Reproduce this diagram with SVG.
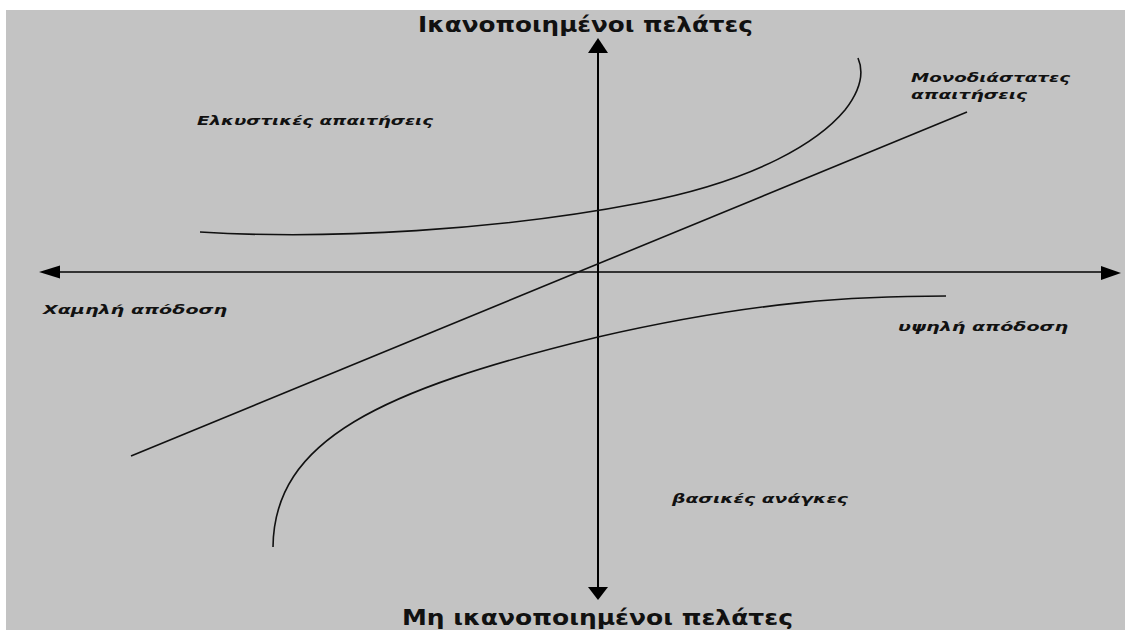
<svg xmlns="http://www.w3.org/2000/svg" width="1125" height="630" viewBox="0 0 1125 630">
<style>
.axis{stroke:#000;stroke-width:2;fill:none}
.haxis{stroke:#333;stroke-width:2.2;fill:none}
.curve{stroke:#111;stroke-width:1.6;fill:none}
.head{fill:#000}
.title{font-family:"DejaVu Sans","Liberation Sans",sans-serif;font-weight:bold;font-size:22px;fill:#111}
.lbl{font-family:"DejaVu Sans","Liberation Sans",sans-serif;font-weight:bold;font-style:italic;font-size:13px;fill:#111}
</style>
<rect x="0" y="0" width="1125" height="630" fill="#fff"/>
<rect x="6" y="10" width="1119" height="620" fill="#c3c3c3"/>
<g id="connectors">
<line class="haxis" x1="55" y1="272" x2="1106" y2="272"/>
<polygon class="head" points="39,272 60,265.5 60,278.5"/>
<polygon class="head" points="1121,273 1101,266 1101,280"/>
<line class="axis" x1="598" y1="48" x2="598" y2="590"/>
<polygon class="head" points="598,38 588,53 608,53"/>
<polygon class="head" points="598,600 588,587 608,587"/>
<path class="curve" d="M200,232 C330,240 500,230 640,203 C760,180 820,140 845,110 C862,88 864,72 858,58"/>
<line class="curve" x1="131" y1="456" x2="967" y2="112"/>
<path class="curve" d="M273,547 C274,440 380,390 598,337 C760,300 860,296 946,296"/>
</g>
<g id="top-label"><text class="title" x="418" y="32" textLength="335" lengthAdjust="spacingAndGlyphs">Ικανοποιημένοι πελάτες</text></g>
<g id="bottom-label"><text class="title" x="402" y="625" textLength="391" lengthAdjust="spacingAndGlyphs">Μη ικανοποιημένοι πελάτες</text></g>
<g id="attractive"><text class="lbl" x="197" y="125" textLength="236" lengthAdjust="spacingAndGlyphs">Ελκυστικές απαιτήσεις</text></g>
<g id="one-dimensional"><text class="lbl" x="911" y="82" textLength="159" lengthAdjust="spacingAndGlyphs">Μονοδιάστατες</text><text class="lbl" x="911" y="99" textLength="116" lengthAdjust="spacingAndGlyphs">απαιτήσεις</text></g>
<g id="low-performance"><text class="lbl" x="43" y="314" textLength="184" lengthAdjust="spacingAndGlyphs">Χαμηλή απόδοση</text></g>
<g id="high-performance"><text class="lbl" x="898" y="331" textLength="170" lengthAdjust="spacingAndGlyphs">υψηλή απόδοση</text></g>
<g id="basic-needs"><text class="lbl" x="672" y="503" textLength="176" lengthAdjust="spacingAndGlyphs">βασικές ανάγκες</text></g>
</svg>
